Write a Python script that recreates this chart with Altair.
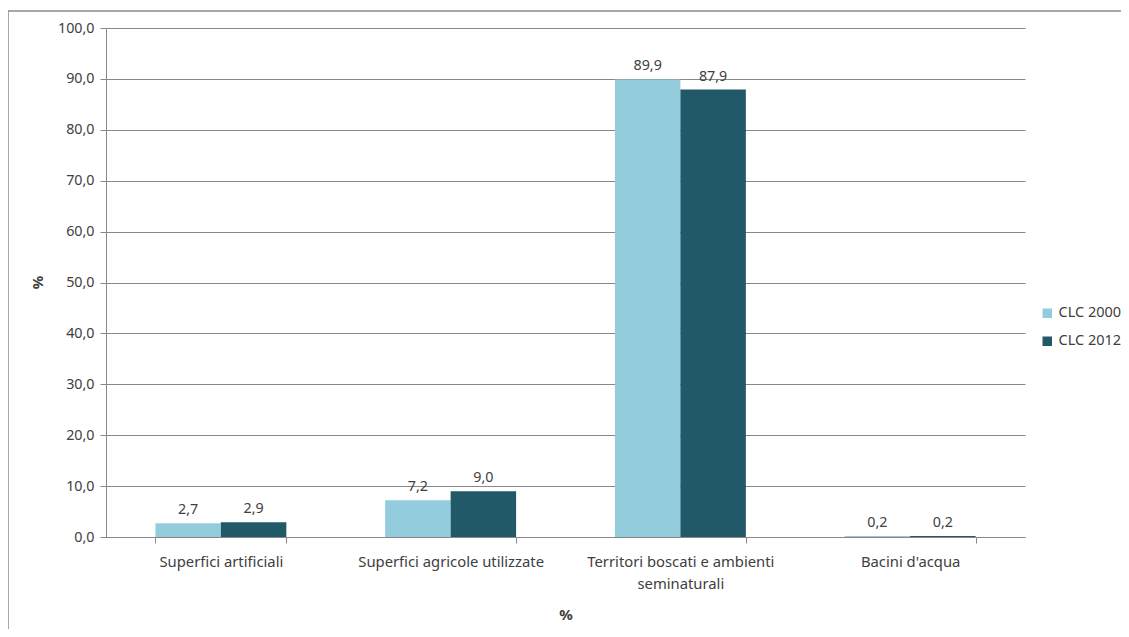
import altair as alt
import pandas as pd

categories = ["Superfici artificiali", "Superfici agricole utilizzate",
              "Territori boscati e ambienti seminaturali", "Bacini d'acqua"]
series = ["CLC 2000", "CLC 2012"]
clc2000 = [2.7, 7.2, 89.9, 0.2]
clc2012 = [2.9, 9.0, 87.9, 0.2]
y_ticks = [0, 10, 20, 30, 40, 50, 60, 70, 80, 90, 100]

rows = []
for c, a, b in zip(categories, clc2000, clc2012):
    rows.append({"cat": c, "serie": series[0], "val": a})
    rows.append({"cat": c, "serie": series[1], "val": b})
df = pd.DataFrame(rows)

FONT = "Noto Sans"
TXT = "#404040"
GRID = "#888888"

x_enc = alt.X("cat:N", sort=categories, title="%",
              scale=alt.Scale(paddingInner=0.43, paddingOuter=0.215),
              axis=alt.Axis(labelAngle=0, tickBand="extent", labelLimit=0,
                            labelExpr="datum.value == 'Territori boscati e ambienti seminaturali' ? ['Territori boscati e ambienti', 'seminaturali'] : datum.value",
                            labelFontSize=14.8, labelColor=TXT, labelFont=FONT,
                            labelPadding=11, labelLineHeight=22,
                            domainColor=GRID, tickColor=GRID, tickSize=6,
                            titleFontSize=15, titleFontWeight="bold", titleColor=TXT,
                            titleFont=FONT, titlePadding=17))
xo_enc = alt.XOffset("serie:N", sort=series, scale=alt.Scale(paddingInner=0, paddingOuter=0))
y_enc = alt.Y("val:Q", title="%",
              scale=alt.Scale(domain=[0, 100], nice=False),
              axis=alt.Axis(values=y_ticks, labelExpr="replace(format(datum.value, '.1f'), '.', ',')",
                            labelFontSize=14.3, labelColor=TXT, labelFont=FONT, labelPadding=6,
                            domainColor=GRID, tickColor=GRID, tickSize=6,
                            gridColor=GRID, gridWidth=1,
                            titleFontSize=15, titleFontWeight="bold", titleColor=TXT, titleFont=FONT,
                            titleX=-61, titleY=254, titleAngle=-90))

color_enc = alt.Color("serie:N", sort=series,
                      scale=alt.Scale(domain=series, range=["#93CDDD", "#215968"]),
                      legend=alt.Legend(title=None, orient="none", legendX=934, legendY=278,
                                        symbolType="square", symbolSize=90, symbolStrokeWidth=0,
                                        labelFontSize=14.5, labelColor=TXT, labelFont=FONT,
                                        rowPadding=13, labelOffset=4, padding=0))

base = alt.Chart(df)
bars = base.mark_bar().encode(x=x_enc, xOffset=xo_enc, y=y_enc, color=color_enc)
labels = base.mark_text(baseline="bottom", dy=-6, fontSize=14.3, color=TXT, font=FONT).encode(
    x=alt.X("cat:N", sort=categories), xOffset=xo_enc, y="val:Q",
    text=alt.Text("lbl:N")
).transform_calculate(lbl="replace(format(datum.val, '.1f'), '.', ',')")

frame_src = alt.Chart(pd.DataFrame({"a": [0]}))
frame_left = frame_src.mark_rule(color="#8a8a8a", strokeWidth=1.5).encode(
    x=alt.value(-98), y=alt.value(-17), y2=alt.value(700))
frame_top = frame_src.mark_rule(color="#8a8a8a", strokeWidth=1.5).encode(
    x=alt.value(-98), x2=alt.value(1015), y=alt.value(-17))

chart = alt.layer(frame_left, frame_top, bars, labels).properties(
    width=919, height=509,
    autosize=alt.AutoSizeParams(type="none"),
    padding={"left": 98, "top": 20, "right": 96, "bottom": 92},
).configure_view(stroke=None)

chart.save("out.html", embed_options={"renderer": "svg", "actions": False})
